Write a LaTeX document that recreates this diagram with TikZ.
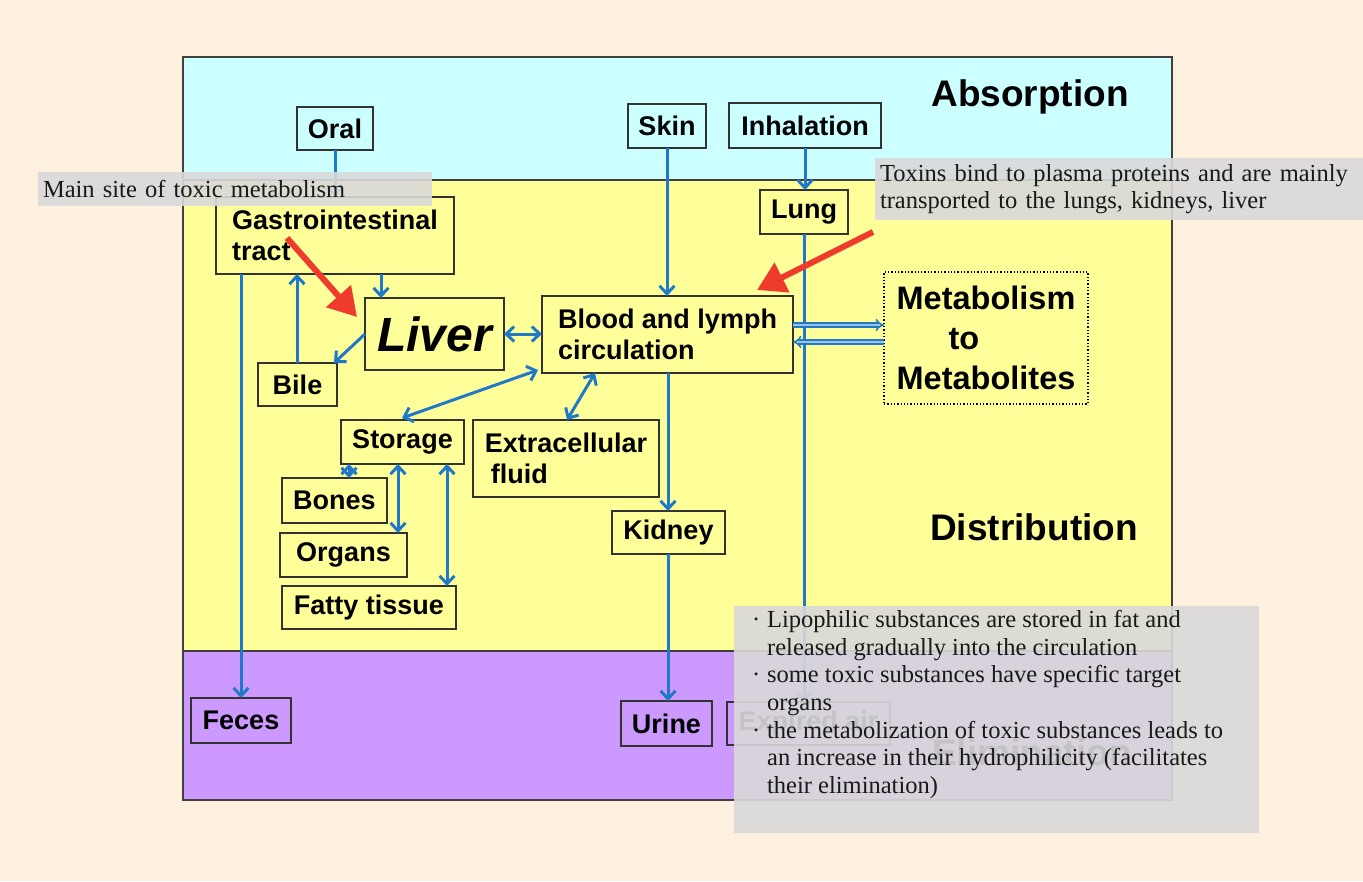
\documentclass[tikz,border=0pt]{standalone}
\usepackage{fontspec}
\setmainfont{Liberation Sans}
\newfontfamily\notefont{Liberation Serif}
\usepackage{tikz}
\usetikzlibrary{arrows.meta}
\usetikzlibrary{calc}
\definecolor{page}{HTML}{FDF0DE}
\definecolor{absorb}{HTML}{CCFFFF}
\definecolor{distrib}{HTML}{FFFF99}
\definecolor{elim}{HTML}{CC99FF}
\definecolor{flowblue}{HTML}{1F78C8}
\definecolor{hintred}{HTML}{EE3B2B}
\definecolor{notegray}{HTML}{D9D9D9}
\tikzstyle{base}=[x=1pt, y=-1pt, inner sep=0pt, outer sep=0pt]
\tikzstyle{box}=[draw=black!80, line width=1.3pt, fill=distrib, anchor=north west, align=left, font=\fontsize{27}{31}\selectfont\bfseries]
\tikzstyle{flow}=[flowblue, line width=3pt, -{Straight Barb[length=8pt,width=15pt]}]
\tikzstyle{both}=[flowblue, line width=3pt, {Straight Barb[length=8pt,width=15pt]}-{Straight Barb[length=8pt,width=15pt]}]
\tikzstyle{twin}=[draw=flowblue, line width=1.6pt, double=white!55!flowblue, double distance=2.4pt, -{Implies[length=7pt]}]
\tikzstyle{hint}=[hintred, line width=6pt, -{Triangle[length=28pt,width=32pt]}]
\tikzstyle{note}=[fill=notegray, fill opacity=0.9, text opacity=1, text=black!90, anchor=north west, align=left, inner xsep=5pt, font=\notefont\fontsize{24.5}{27.7}\selectfont]
\tikzstyle{phase}=[font=\fontsize{37}{40}\selectfont\bfseries]

\begin{document}
\begin{tikzpicture}[base]
    \fill [page] (0,0) rectangle (1363,881);
    \fill [absorb] (183,57) rectangle (1172,180);
    \fill [distrib] (183,180) rectangle (1172,651);
    \fill [elim] (183,651) rectangle (1172,800);
    \draw [black!75, line width=1.3pt] (183,180) -- (1172,180) (183,651) -- (1172,651);
    \draw [black!75, line width=1.3pt] (183,57) rectangle (1172,800);

    \node [phase] (absorption) at (1030,97) {Absorption};
    \node [phase] (distribution) at (1034,527) {Distribution};
    \node [phase] (elimination) at (1032,752) {Elimination};

    \node [box, fill=absorb, minimum width=76, minimum height=43] (oral) at (297,107) {Oral};
    \node [box, fill=absorb, minimum width=78, minimum height=44] (skin) at (628,104) {Skin};
    \node [box, fill=absorb, minimum width=152, minimum height=45] (inhal) at (729,103) {Inhalation};
    \node [box, minimum width=238, minimum height=77] (gi) at (216,197) {Gastrointestinal\\tract};
    \node [box, minimum width=139, minimum height=72, font=\fontsize{48}{52}\selectfont\bfseries\itshape] (liver) at (365,298) {Liver};
    \node [box, minimum width=251, minimum height=77] (blood) at (542,296) {Blood and lymph\\circulation};
    \node [box, minimum width=88, minimum height=44] (lung) at (760,190) {Lung};
    \node [box, draw=black, dotted, line width=2pt, minimum width=204, minimum height=132, font=\fontsize{32.5}{40}\selectfont\bfseries] (meta) at (884,272) {Metabolism\\\hspace*{52pt}to\\Metabolites};
    \node [box, minimum width=79, minimum height=43] (bile) at (258,363) {Bile};
    \node [box, minimum width=123, minimum height=44] (storage) at (341,420) {Storage};
    \node [box, minimum width=186, minimum height=77] (ecf) at (473,420) {Extracellular\\\hspace*{6pt}fluid};
    \node [box, minimum width=105, minimum height=45] (bones) at (282,478) {Bones};
    \node [box, minimum width=127, minimum height=44] (organs) at (280,533) {Organs};
    \node [box, minimum width=174, minimum height=43] (fatty) at (282,586) {Fatty tissue};
    \node [box, minimum width=113, minimum height=43] (kidney) at (612,511) {Kidney};
    \node [box, fill=elim, minimum width=100, minimum height=45] (feces) at (191,698) {Feces};
    \node [box, fill=elim, minimum width=91, minimum height=45] (urine) at (621,701) {Urine};
    \node [box, fill=elim, minimum width=163, minimum height=43] (expair) at (727,702) {Expired air};

    \draw [flow] (oral.south) -- (oral.south |- gi.north);
    \draw [flow] (skin.south) -- (skin.south |- blood.north);
    \draw [flow] (inhal.south) -- (inhal.south |- lung.north);
    \draw [flow] (lung.south) -- (lung.south |- expair.north);
    \draw [flow] ($(gi.south west)+(165,0)$) -- ($(liver.north west)+(16,0)$);
    \draw [both] (liver.east) -- (liver.east -| blood.west);
    \draw [flow] (liver.west) -- ($(bile.north east)+(-3,0)$);
    \draw [flow] ($(bile.north west)+(39,0)$) -- ($(gi.south west)+(81,0)$);
    \draw [flow] ($(gi.south west)+(25,0)$) -- ($(feces.north west)+(50,0)$);
    \draw [both] ($(blood.south west)+(-4,-3)$) -- ($(storage.north west)+(61,-2)$);
    \draw [both] ($(blood.south west)+(53,0)$) -- ($(ecf.north west)+(94,0)$);
    \draw [both] ($(storage.south west)+(8,0)$) -- ($(bones.north west)+(67,0)$);
    \draw [both] ($(storage.south west)+(57,0)$) -- ($(organs.north west)+(118,0)$);
    \draw [both] ($(storage.south west)+(106,0)$) -- ($(fatty.north west)+(165,0)$);
    \draw [flow] ($(blood.south west)+(126,0)$) -- ($(kidney.north west)+(56,0)$);
    \draw [flow] ($(kidney.south west)+(56,0)$) -- ($(urine.north west)+(47,0)$);
    \draw [twin] ($(blood.north east)+(0,29)$) -- ($(meta.north west)+(0,53)$);
    \draw [twin] ($(meta.north west)+(0,70)$) -- ($(blood.north east)+(0,46)$);

    \node [note, text width=384, minimum height=34] (notemain) at (38,172) {Main site of toxic metabolism};
    \node [note, text width=478, minimum height=62] (notetoxins) at (875,158) {Toxins bind to plasma proteins and are mainly\\transported to the lungs, kidneys, liver};
    \fill [notegray, opacity=0.9] (734,606) rectangle (1259,833);
    \node [anchor=north west, text=black!90, font=\notefont\fontsize{24.5}{27.7}\selectfont] (notebullets) at (752,608) {%
        \begin{tabular}{@{}l@{\hspace{7pt}}l@{}}
        \textperiodcentered & Lipophilic substances are stored in fat and\\
         & released gradually into the circulation\\
        \textperiodcentered & some toxic substances have specific target\\
         & organs\\
        \textperiodcentered & the metabolization of toxic substances leads to\\
         & an increase in their hydrophilicity (facilitates\\
         & their elimination)
        \end{tabular}};

    \coordinate (hintgi) at (287,238);
    \coordinate (hinttox) at (873,232);
    \draw [hint] (hintgi) -- ($(liver.north west)+(-8,19)$);
    \draw [hint] (hinttox) -- ($(blood.north west)+(215,-6)$);
\end{tikzpicture}
\end{document}
